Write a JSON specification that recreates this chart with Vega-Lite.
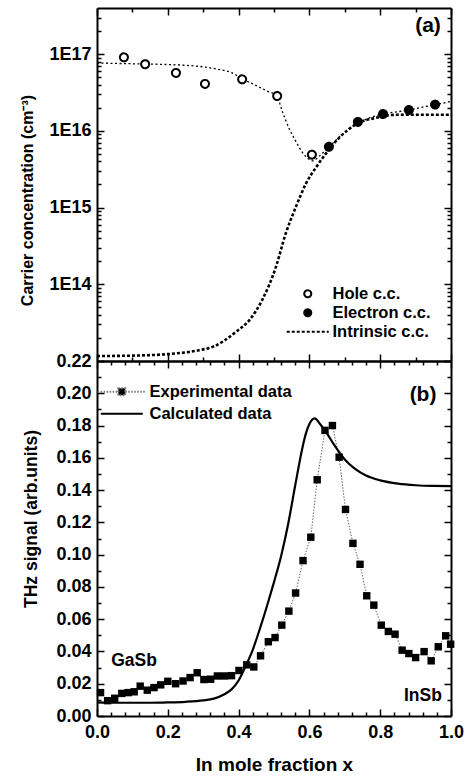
{
  "$schema": "https://vega.github.io/schema/vega-lite/v6.json",
  "autosize": {"type": "pad"},
  "padding": {"left": 19, "top": 7, "right": 21, "bottom": 5},
  "spacing": 0,
  "bounds": "flush",
  "resolve": {
    "scale": {"fill": "independent", "shape": "independent", "strokeDash": "independent", "stroke": "independent"},
    "legend": {"fill": "independent", "shape": "independent", "strokeDash": "independent", "stroke": "independent"}
  },
  "config": {
    "font": "Liberation Sans",
    "view": {"stroke": null},
    "axis": {
      "grid": false,
      "domainColor": "black",
      "domainWidth": 2,
      "tickColor": "black",
      "tickWidth": 1.5,
      "labelFont": "Liberation Sans",
      "labelFontSize": 18,
      "labelFontWeight": "bold",
      "labelColor": "black",
      "labelFlush": false,
      "labelOverlap": false,
      "titleFont": "Liberation Sans",
      "titleFontWeight": "bold",
      "titleColor": "black"
    },
    "text": {"font": "Liberation Sans", "color": "black", "fontWeight": "bold"}
  },
  "vconcat": [
    {
      "width": 354,
      "height": 353,
      "data": {
        "values": [
          {"series": "fit", "x": 0.0, "y": 7.67e16},
          {"series": "fit", "x": 0.1, "y": 7.50e16},
          {"series": "fit", "x": 0.2, "y": 7.33e16},
          {"series": "fit", "x": 0.25, "y": 7.16e16},
          {"series": "fit", "x": 0.3, "y": 6.84e16},
          {"series": "fit", "x": 0.35, "y": 6.24e16},
          {"series": "fit", "x": 0.38, "y": 5.75e16},
          {"series": "fit", "x": 0.41, "y": 4.79e16},
          {"series": "fit", "x": 0.45, "y": 3.89e16},
          {"series": "fit", "x": 0.48, "y": 3.31e16},
          {"series": "fit", "x": 0.508, "y": 2.85e16},
          {"series": "fit", "x": 0.523, "y": 1.82e16},
          {"series": "fit", "x": 0.542, "y": 1.096e16},
          {"series": "fit", "x": 0.561, "y": 7.41e15},
          {"series": "fit", "x": 0.58, "y": 5.25e15},
          {"series": "fit", "x": 0.599, "y": 4.27e15},
          {"series": "fit", "x": 0.609, "y": 4.07e15},
          {"series": "fit", "x": 0.63, "y": 4.79e15},
          {"series": "fit", "x": 0.655, "y": 6.17e15},
          {"series": "fit", "x": 0.7, "y": 9.55e15},
          {"series": "fit", "x": 0.737, "y": 1.259e16},
          {"series": "fit", "x": 0.77, "y": 1.479e16},
          {"series": "fit", "x": 0.808, "y": 1.66e16},
          {"series": "fit", "x": 0.85, "y": 1.778e16},
          {"series": "fit", "x": 0.881, "y": 1.862e16},
          {"series": "fit", "x": 0.92, "y": 2.042e16},
          {"series": "fit", "x": 0.955, "y": 2.188e16},
          {"series": "fit", "x": 1.0, "y": 2.427e16},
          {"series": "Intrinsic c.c.", "x": 0.0, "y": 1.161e13},
          {"series": "Intrinsic c.c.", "x": 0.1, "y": 1.175e13},
          {"series": "Intrinsic c.c.", "x": 0.2, "y": 1.23e13},
          {"series": "Intrinsic c.c.", "x": 0.288, "y": 1.38e13},
          {"series": "Intrinsic c.c.", "x": 0.33, "y": 1.549e13},
          {"series": "Intrinsic c.c.", "x": 0.36, "y": 1.85e13},
          {"series": "Intrinsic c.c.", "x": 0.395, "y": 2.45e13},
          {"series": "Intrinsic c.c.", "x": 0.43, "y": 3.388e13},
          {"series": "Intrinsic c.c.", "x": 0.466, "y": 6.166e13},
          {"series": "Intrinsic c.c.", "x": 0.505, "y": 1.66e14},
          {"series": "Intrinsic c.c.", "x": 0.533, "y": 4.571e14},
          {"series": "Intrinsic c.c.", "x": 0.561, "y": 1.0e15},
          {"series": "Intrinsic c.c.", "x": 0.59, "y": 2.042e15},
          {"series": "Intrinsic c.c.", "x": 0.618, "y": 3.311e15},
          {"series": "Intrinsic c.c.", "x": 0.646, "y": 5.012e15},
          {"series": "Intrinsic c.c.", "x": 0.684, "y": 8.128e15},
          {"series": "Intrinsic c.c.", "x": 0.737, "y": 1.259e16},
          {"series": "Intrinsic c.c.", "x": 0.788, "y": 1.479e16},
          {"series": "Intrinsic c.c.", "x": 0.845, "y": 1.622e16},
          {"series": "Intrinsic c.c.", "x": 0.9, "y": 1.622e16},
          {"series": "Intrinsic c.c.", "x": 1.0, "y": 1.622e16},
          {"series": "Hole c.c.", "x": 0.076, "y": 9.1e16},
          {"series": "Hole c.c.", "x": 0.136, "y": 7.4e16},
          {"series": "Hole c.c.", "x": 0.223, "y": 5.7e16},
          {"series": "Hole c.c.", "x": 0.305, "y": 4.1e16},
          {"series": "Hole c.c.", "x": 0.41, "y": 4.7e16},
          {"series": "Hole c.c.", "x": 0.509, "y": 2.85e16},
          {"series": "Hole c.c.", "x": 0.607, "y": 4.9e15},
          {"series": "Electron c.c.", "x": 0.655, "y": 6.2e15},
          {"series": "Electron c.c.", "x": 0.737, "y": 1.31e16},
          {"series": "Electron c.c.", "x": 0.808, "y": 1.66e16},
          {"series": "Electron c.c.", "x": 0.881, "y": 1.87e16},
          {"series": "Electron c.c.", "x": 0.955, "y": 2.2e16}
        ]
      },
      "resolve": {"axis": {"x": "independent", "y": "independent"}},
      "layer": [
        {
          "transform": [{"filter": "datum.series === 'fit'"}],
          "mark": {"type": "line", "interpolate": "monotone", "stroke": "black", "strokeWidth": 1.3, "strokeDash": [2, 2.5]},
          "encoding": {
            "x": {
              "field": "x", "type": "quantitative",
              "scale": {"domain": [0, 1], "nice": false, "zero": false},
              "axis": {
                "orient": "bottom", "title": null, "labels": false,
                "values": [0, 0.1, 0.2, 0.3, 0.4, 0.5, 0.6, 0.7, 0.8, 0.9, 1.0],
                "tickSize": {"condition": {"test": "abs(datum.value*5 - round(datum.value*5)) < 0.001", "value": -7}, "value": -4}
              }
            },
            "y": {
              "field": "y", "type": "quantitative",
              "scale": {"type": "log", "domain": [1e13, 4e17], "nice": false},
              "axis": {
                "orient": "left",
                "title": "Carrier concentration (cm⁻³)",
                "titleFontSize": 16,
                "titleX": -61.5,
                "titleY": 192,
                "labelPadding": 13,
                "values": [1e13, 2e13, 3e13, 4e13, 5e13, 6e13, 7e13, 8e13, 9e13, 1e14, 2e14, 3e14, 4e14, 5e14, 6e14, 7e14, 8e14, 9e14, 1e15, 2e15, 3e15, 4e15, 5e15, 6e15, 7e15, 8e15, 9e15, 1e16, 2e16, 3e16, 4e16, 5e16, 6e16, 7e16, 8e16, 9e16, 1e17, 2e17, 3e17],
                "labelExpr": "datum.value == 1e14 ? '1E14' : datum.value == 1e15 ? '1E15' : datum.value == 1e16 ? '1E16' : datum.value == 1e17 ? '1E17' : ''",
                "tickSize": {"condition": {"test": "indexof([1e13, 1e14, 1e15, 1e16, 1e17], datum.value) >= 0", "value": -7}, "value": -4}
              }
            }
          }
        },
        {
          "transform": [{"filter": "datum.series === 'Intrinsic c.c.'"}],
          "mark": {"type": "line", "interpolate": "monotone", "stroke": "black", "strokeWidth": 2.6, "strokeDash": [3, 2]},
          "encoding": {
            "x": {
              "field": "x", "type": "quantitative",
              "axis": {
                "orient": "top", "title": null, "labels": false,
                "values": [0, 0.1, 0.2, 0.3, 0.4, 0.5, 0.6, 0.7, 0.8, 0.9, 1.0],
                "tickSize": {"condition": {"test": "abs(datum.value*5 - round(datum.value*5)) < 0.001", "value": -7}, "value": -4}
              }
            },
            "y": {
              "field": "y", "type": "quantitative",
              "axis": {
                "orient": "right", "title": null, "labels": false,
                "values": [1e13, 2e13, 3e13, 4e13, 5e13, 6e13, 7e13, 8e13, 9e13, 1e14, 2e14, 3e14, 4e14, 5e14, 6e14, 7e14, 8e14, 9e14, 1e15, 2e15, 3e15, 4e15, 5e15, 6e15, 7e15, 8e15, 9e15, 1e16, 2e16, 3e16, 4e16, 5e16, 6e16, 7e16, 8e16, 9e16, 1e17, 2e17, 3e17],
                "tickSize": {"condition": {"test": "indexof([1e13, 1e14, 1e15, 1e16, 1e17], datum.value) >= 0", "value": -7}, "value": -4}
              }
            }
          }
        },
        {
          "transform": [{"filter": "datum.series === 'Hole c.c.' || datum.series === 'Electron c.c.'"}],
          "mark": {"type": "point", "filled": true, "strokeWidth": 2, "size": 64, "opacity": 1},
          "encoding": {
            "x": {"field": "x", "type": "quantitative", "axis": null},
            "y": {"field": "y", "type": "quantitative", "axis": null},
            "fill": {
              "field": "series", "type": "nominal",
              "scale": {"domain": ["Hole c.c.", "Electron c.c.", "Intrinsic c.c."], "range": ["white", "black", "transparent"]},
              "legend": {
                "title": null, "orient": "none", "legendX": 202.5, "legendY": 277.5, "padding": 0,
                "labelFont": "Liberation Sans", "labelFontSize": 16.5, "labelFontWeight": "bold", "labelColor": "black",
                "labelOffset": 16.5, "rowPadding": 2, "symbolSize": 49, "symbolStrokeWidth": 2, "symbolOpacity": 1
              }
            },
            "stroke": {
              "field": "series", "type": "nominal",
              "scale": {"domain": ["Hole c.c.", "Electron c.c.", "Intrinsic c.c."], "range": ["black", "black", "black"]},
              "legend": {
                "title": null, "orient": "none", "legendX": 202.5, "legendY": 277.5, "padding": 0,
                "labelFont": "Liberation Sans", "labelFontSize": 16.5, "labelFontWeight": "bold", "labelColor": "black",
                "labelOffset": 16.5, "rowPadding": 2, "symbolSize": 49, "symbolStrokeWidth": 2, "symbolOpacity": 1
              }
            },
            "shape": {
              "field": "series", "type": "nominal",
              "scale": {"domain": ["Hole c.c.", "Electron c.c.", "Intrinsic c.c."], "range": ["circle", "circle", "M-6,0H6"]},
              "legend": {
                "title": null, "orient": "none", "legendX": 202.5, "legendY": 277.5, "padding": 0,
                "labelFont": "Liberation Sans", "labelFontSize": 16.5, "labelFontWeight": "bold", "labelColor": "black",
                "labelOffset": 16.5, "rowPadding": 2, "symbolSize": 49, "symbolStrokeWidth": 2, "symbolOpacity": 1
              }
            },
            "strokeDash": {
              "field": "series", "type": "nominal",
              "scale": {"domain": ["Hole c.c.", "Electron c.c.", "Intrinsic c.c."], "range": [[1, 0], [1, 0], [3, 2]]},
              "legend": {
                "title": null, "orient": "none", "legendX": 202.5, "legendY": 277.5, "padding": 0,
                "labelFont": "Liberation Sans", "labelFontSize": 16.5, "labelFontWeight": "bold", "labelColor": "black",
                "labelOffset": 16.5, "rowPadding": 2, "symbolSize": 49, "symbolStrokeWidth": 2, "symbolOpacity": 1
              }
            }
          }
        },
        {
          "data": {"values": [{}]},
          "mark": {"type": "text", "fontSize": 21, "align": "center", "baseline": "middle"},
          "encoding": {
            "x": {"datum": 0.935, "type": "quantitative", "axis": null},
            "y": {"datum": 2.3e17, "type": "quantitative", "axis": null},
            "text": {"value": "(a)"}
          }
        }
      ]
    },
    {
      "width": 354,
      "height": 355,
      "data": {
        "values": [
          {"series": "Experimental data", "x": 0.010, "y": 0.0145},
          {"series": "Experimental data", "x": 0.030, "y": 0.0095},
          {"series": "Experimental data", "x": 0.050, "y": 0.0110},
          {"series": "Experimental data", "x": 0.070, "y": 0.0140},
          {"series": "Experimental data", "x": 0.088, "y": 0.0145},
          {"series": "Experimental data", "x": 0.105, "y": 0.0150},
          {"series": "Experimental data", "x": 0.122, "y": 0.0185},
          {"series": "Experimental data", "x": 0.142, "y": 0.0160},
          {"series": "Experimental data", "x": 0.161, "y": 0.0176},
          {"series": "Experimental data", "x": 0.180, "y": 0.0193},
          {"series": "Experimental data", "x": 0.200, "y": 0.0215},
          {"series": "Experimental data", "x": 0.222, "y": 0.0200},
          {"series": "Experimental data", "x": 0.243, "y": 0.0217},
          {"series": "Experimental data", "x": 0.263, "y": 0.0238},
          {"series": "Experimental data", "x": 0.283, "y": 0.0268},
          {"series": "Experimental data", "x": 0.302, "y": 0.0226},
          {"series": "Experimental data", "x": 0.321, "y": 0.0228},
          {"series": "Experimental data", "x": 0.340, "y": 0.0248},
          {"series": "Experimental data", "x": 0.360, "y": 0.0248},
          {"series": "Experimental data", "x": 0.380, "y": 0.0250},
          {"series": "Experimental data", "x": 0.401, "y": 0.0282},
          {"series": "Experimental data", "x": 0.423, "y": 0.0317},
          {"series": "Experimental data", "x": 0.443, "y": 0.0304},
          {"series": "Experimental data", "x": 0.462, "y": 0.0373},
          {"series": "Experimental data", "x": 0.484, "y": 0.0460},
          {"series": "Experimental data", "x": 0.503, "y": 0.0486},
          {"series": "Experimental data", "x": 0.522, "y": 0.0563},
          {"series": "Experimental data", "x": 0.542, "y": 0.0650},
          {"series": "Experimental data", "x": 0.561, "y": 0.0762},
          {"series": "Experimental data", "x": 0.582, "y": 0.0963},
          {"series": "Experimental data", "x": 0.604, "y": 0.1108},
          {"series": "Experimental data", "x": 0.622, "y": 0.1464},
          {"series": "Experimental data", "x": 0.644, "y": 0.1770},
          {"series": "Experimental data", "x": 0.665, "y": 0.1800},
          {"series": "Experimental data", "x": 0.684, "y": 0.1604},
          {"series": "Experimental data", "x": 0.702, "y": 0.1280},
          {"series": "Experimental data", "x": 0.723, "y": 0.1070},
          {"series": "Experimental data", "x": 0.743, "y": 0.0940},
          {"series": "Experimental data", "x": 0.762, "y": 0.0745},
          {"series": "Experimental data", "x": 0.782, "y": 0.0687},
          {"series": "Experimental data", "x": 0.803, "y": 0.0563},
          {"series": "Experimental data", "x": 0.823, "y": 0.0524},
          {"series": "Experimental data", "x": 0.842, "y": 0.0507},
          {"series": "Experimental data", "x": 0.862, "y": 0.0408},
          {"series": "Experimental data", "x": 0.881, "y": 0.0387},
          {"series": "Experimental data", "x": 0.900, "y": 0.0362},
          {"series": "Experimental data", "x": 0.924, "y": 0.0399},
          {"series": "Experimental data", "x": 0.944, "y": 0.0342},
          {"series": "Experimental data", "x": 0.964, "y": 0.0429},
          {"series": "Experimental data", "x": 0.985, "y": 0.0497},
          {"series": "Experimental data", "x": 0.999, "y": 0.0445},
          {"series": "Calculated data", "x": 0.00, "y": 0.0085},
          {"series": "Calculated data", "x": 0.05, "y": 0.0082},
          {"series": "Calculated data", "x": 0.10, "y": 0.0082},
          {"series": "Calculated data", "x": 0.15, "y": 0.0082},
          {"series": "Calculated data", "x": 0.20, "y": 0.0084},
          {"series": "Calculated data", "x": 0.25, "y": 0.0088},
          {"series": "Calculated data", "x": 0.30, "y": 0.0097},
          {"series": "Calculated data", "x": 0.33, "y": 0.0108},
          {"series": "Calculated data", "x": 0.36, "y": 0.0135},
          {"series": "Calculated data", "x": 0.38, "y": 0.0165},
          {"series": "Calculated data", "x": 0.40, "y": 0.0220},
          {"series": "Calculated data", "x": 0.42, "y": 0.0310},
          {"series": "Calculated data", "x": 0.44, "y": 0.0410},
          {"series": "Calculated data", "x": 0.46, "y": 0.0540},
          {"series": "Calculated data", "x": 0.48, "y": 0.0680},
          {"series": "Calculated data", "x": 0.50, "y": 0.0830},
          {"series": "Calculated data", "x": 0.52, "y": 0.0990},
          {"series": "Calculated data", "x": 0.54, "y": 0.1190},
          {"series": "Calculated data", "x": 0.56, "y": 0.1430},
          {"series": "Calculated data", "x": 0.58, "y": 0.1660},
          {"series": "Calculated data", "x": 0.59, "y": 0.1750},
          {"series": "Calculated data", "x": 0.60, "y": 0.1810},
          {"series": "Calculated data", "x": 0.615, "y": 0.1845},
          {"series": "Calculated data", "x": 0.63, "y": 0.1810},
          {"series": "Calculated data", "x": 0.65, "y": 0.1750},
          {"series": "Calculated data", "x": 0.67, "y": 0.1680},
          {"series": "Calculated data", "x": 0.70, "y": 0.1590},
          {"series": "Calculated data", "x": 0.73, "y": 0.1530},
          {"series": "Calculated data", "x": 0.76, "y": 0.1490},
          {"series": "Calculated data", "x": 0.80, "y": 0.1460},
          {"series": "Calculated data", "x": 0.85, "y": 0.1440},
          {"series": "Calculated data", "x": 0.90, "y": 0.1430},
          {"series": "Calculated data", "x": 0.95, "y": 0.1426},
          {"series": "Calculated data", "x": 1.00, "y": 0.1425}
        ]
      },
      "resolve": {"axis": {"x": "independent", "y": "independent"}},
      "layer": [
        {
          "transform": [{"filter": "datum.series === 'Experimental data'"}],
          "mark": {"type": "line", "stroke": "#555555", "strokeWidth": 0.9, "strokeDash": [1.5, 1.5]},
          "encoding": {
            "x": {
              "field": "x", "type": "quantitative",
              "scale": {"domain": [0, 1], "nice": false, "zero": false},
              "axis": {
                "orient": "bottom",
                "title": "In mole fraction x",
                "titleFontSize": 19,
                "titleY": 54,
                "titleBaseline": "alphabetic",
                "labelPadding": 14,
                "values": [0, 0.04, 0.08, 0.12, 0.16, 0.2, 0.24, 0.28, 0.32, 0.36, 0.4, 0.44, 0.48, 0.52, 0.56, 0.6, 0.64, 0.68, 0.72, 0.76, 0.8, 0.84, 0.88, 0.92, 0.96, 1.0],
                "labelExpr": "abs(datum.value*5 - round(datum.value*5)) < 0.001 ? format(datum.value, '.1f') : ''",
                "tickSize": {"condition": {"test": "abs(datum.value*5 - round(datum.value*5)) < 0.001", "value": -7}, "value": -4}
              }
            },
            "y": {
              "field": "y", "type": "quantitative",
              "scale": {"domain": [0, 0.22], "nice": false, "zero": false},
              "axis": {
                "orient": "left",
                "title": "THz signal (arb.units)",
                "titleFontSize": 17.5,
                "titleX": -57,
                "titleY": 157.5,
                "labelPadding": 13,
                "values": [0, 0.01, 0.02, 0.03, 0.04, 0.05, 0.06, 0.07, 0.08, 0.09, 0.1, 0.11, 0.12, 0.13, 0.14, 0.15, 0.16, 0.17, 0.18, 0.19, 0.2, 0.21, 0.22],
                "labelExpr": "abs(datum.value*50 - round(datum.value*50)) < 0.001 ? format(datum.value, '.2f') : ''",
                "tickSize": {"condition": {"test": "abs(datum.value*50 - round(datum.value*50)) < 0.001", "value": -7}, "value": -4}
              }
            }
          }
        },
        {
          "transform": [{"filter": "datum.series === 'Calculated data'"}],
          "mark": {"type": "line", "interpolate": "monotone", "stroke": "black", "strokeWidth": 2.2},
          "encoding": {
            "x": {
              "field": "x", "type": "quantitative",
              "axis": {
                "orient": "top", "title": null, "labels": false,
                "values": [0, 0.04, 0.08, 0.12, 0.16, 0.2, 0.24, 0.28, 0.32, 0.36, 0.4, 0.44, 0.48, 0.52, 0.56, 0.6, 0.64, 0.68, 0.72, 0.76, 0.8, 0.84, 0.88, 0.92, 0.96, 1.0],
                "tickSize": {"condition": {"test": "abs(datum.value*5 - round(datum.value*5)) < 0.001", "value": -7}, "value": -4}
              }
            },
            "y": {
              "field": "y", "type": "quantitative",
              "axis": {
                "orient": "right", "title": null, "labels": false,
                "values": [0, 0.01, 0.02, 0.03, 0.04, 0.05, 0.06, 0.07, 0.08, 0.09, 0.1, 0.11, 0.12, 0.13, 0.14, 0.15, 0.16, 0.17, 0.18, 0.19, 0.2, 0.21, 0.22],
                "tickSize": {"condition": {"test": "abs(datum.value*50 - round(datum.value*50)) < 0.001", "value": -7}, "value": -4}
              }
            }
          }
        },
        {
          "transform": [{"filter": "datum.series === 'Experimental data'"}],
          "mark": {"type": "point", "shape": "square", "filled": true, "color": "black", "size": 55, "opacity": 1},
          "encoding": {
            "x": {"field": "x", "type": "quantitative", "axis": null},
            "y": {"field": "y", "type": "quantitative", "axis": null}
          }
        },
        {
          "transform": [{"filter": "false"}],
          "mark": {"type": "point", "filled": true, "opacity": 1, "strokeWidth": 2},
          "encoding": {
            "x": {"field": "x", "type": "quantitative", "axis": null},
            "y": {"field": "y", "type": "quantitative", "axis": null},
            "shape": {
              "field": "series", "type": "nominal",
              "scale": {"domain": ["Experimental data", "Calculated data"], "range": ["M-6.9,0H-1M1,0H6.9M-1,-1H1V1H-1Z", "M-6,0H6"]},
              "legend": {
                "title": null, "orient": "none", "legendX": 16.5, "legendY": 22.5, "padding": 0,
                "labelFont": "Liberation Sans", "labelFontSize": 16.5, "labelFontWeight": "bold", "labelColor": "black",
                "labelOffset": 19.5, "rowPadding": 5, "symbolSize": 49, "symbolStrokeWidth": 2, "symbolOpacity": 1
              }
            },
            "fill": {
              "field": "series", "type": "nominal",
              "scale": {"domain": ["Experimental data", "Calculated data"], "range": ["black", "transparent"]},
              "legend": {
                "title": null, "orient": "none", "legendX": 16.5, "legendY": 22.5, "padding": 0,
                "labelFont": "Liberation Sans", "labelFontSize": 16.5, "labelFontWeight": "bold", "labelColor": "black",
                "labelOffset": 19.5, "rowPadding": 5, "symbolSize": 49, "symbolStrokeWidth": 2, "symbolOpacity": 1
              }
            },
            "stroke": {
              "field": "series", "type": "nominal",
              "scale": {"domain": ["Experimental data", "Calculated data"], "range": ["#777777", "black"]},
              "legend": {
                "title": null, "orient": "none", "legendX": 16.5, "legendY": 22.5, "padding": 0,
                "labelFont": "Liberation Sans", "labelFontSize": 16.5, "labelFontWeight": "bold", "labelColor": "black",
                "labelOffset": 19.5, "rowPadding": 5, "symbolSize": 49, "symbolStrokeWidth": 2, "symbolOpacity": 1
              }
            },
            "strokeDash": {
              "field": "series", "type": "nominal",
              "scale": {"domain": ["Experimental data", "Calculated data"], "range": [[1.5, 1.5], [1, 0]]},
              "legend": {
                "title": null, "orient": "none", "legendX": 16.5, "legendY": 22.5, "padding": 0,
                "labelFont": "Liberation Sans", "labelFontSize": 16.5, "labelFontWeight": "bold", "labelColor": "black",
                "labelOffset": 19.5, "rowPadding": 5, "symbolSize": 49, "symbolStrokeWidth": 2, "symbolOpacity": 1
              }
            }
          }
        },
        {
          "data": {"values": [{}]},
          "mark": {"type": "text", "fontSize": 21, "align": "center", "baseline": "middle"},
          "encoding": {
            "x": {"datum": 0.921, "type": "quantitative", "axis": null},
            "y": {"datum": 0.1988, "type": "quantitative", "axis": null},
            "text": {"value": "(b)"}
          }
        },
        {
          "data": {"values": [{}]},
          "mark": {"type": "text", "fontSize": 17.5, "align": "left", "baseline": "middle"},
          "encoding": {
            "x": {"datum": 0.04, "type": "quantitative", "axis": null},
            "y": {"datum": 0.0342, "type": "quantitative", "axis": null},
            "text": {"value": "GaSb"}
          }
        },
        {
          "data": {"values": [{}]},
          "mark": {"type": "text", "fontSize": 17.5, "align": "left", "baseline": "middle"},
          "encoding": {
            "x": {"datum": 0.867, "type": "quantitative", "axis": null},
            "y": {"datum": 0.0124, "type": "quantitative", "axis": null},
            "text": {"value": "InSb"}
          }
        }
      ]
    }
  ]
}
